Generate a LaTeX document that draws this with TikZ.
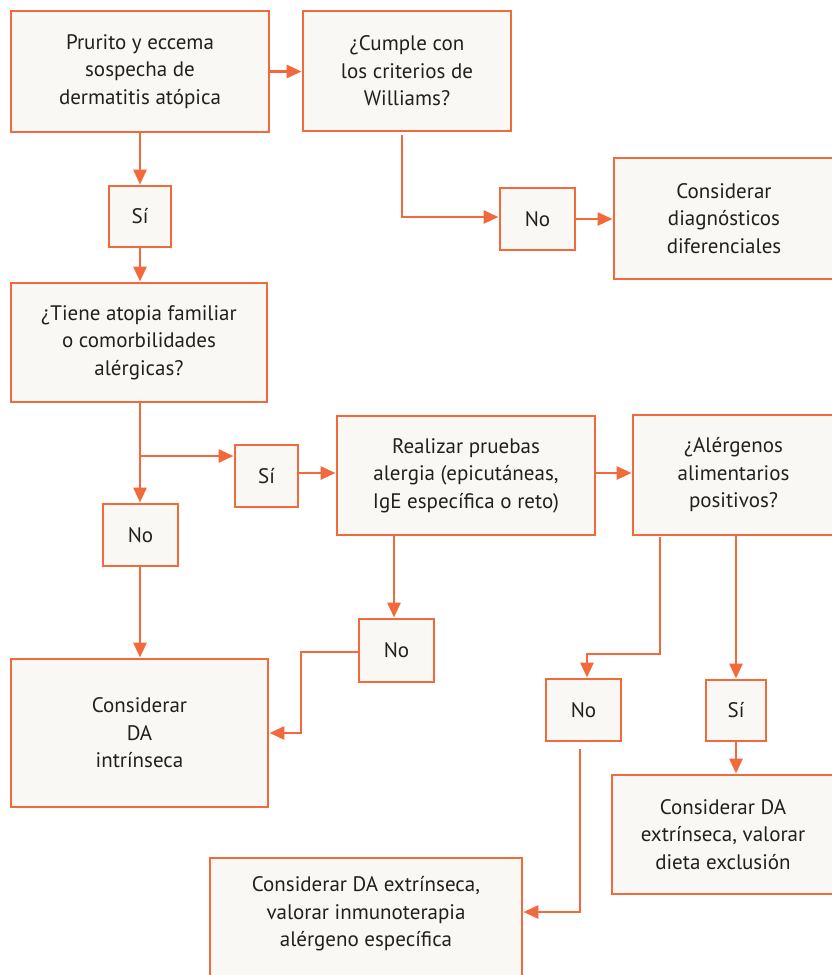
\documentclass[tikz,border=0pt]{standalone}
\usepackage{fontspec}
\setmainfont{PT Sans}
\usetikzlibrary{arrows.meta}
\definecolor{orng}{HTML}{F26A3C}
\definecolor{bg}{HTML}{FAF8F4}
\definecolor{txt}{HTML}{231F20}
\tikzset{
  bx/.style={draw=orng, fill=bg, line width=2.9pt, inner sep=0pt, align=center,
    text=txt, font=\fontsize{21}{27.5}\selectfont},
  arr/.style={draw=orng, line width=2.9pt, -{Triangle[length=15pt,width=13pt]}},
  ln/.style={draw=orng, line width=2.9pt}
}
\begin{document}
\begin{tikzpicture}[x=1pt,y=-1pt]
\useasboundingbox (0,0) rectangle (832,975);
\clip (0,0) rectangle (832,975);
\fill[white] (0,0) rectangle (832,975);
\node[bx, minimum width=258pt, minimum height=121pt] (prur) at (140,71.5) {Prurito y eccema\\sospecha de\\dermatitis atópica};
\node[bx, minimum width=208pt, minimum height=120pt] (cump) at (407,71) {¿Cumple con\\los criterios de\\Williams?};
\node[bx, minimum width=62pt, minimum height=61pt] (si1) at (140,216.5) {Sí};
\node[bx, minimum width=75pt, minimum height=62pt] (no1) at (537.5,219) {No};
\node[bx, minimum width=220pt, minimum height=121pt] (diag) at (724,218.5) {Considerar\\diagnósticos\\diferenciales};
\node[bx, minimum width=256pt, minimum height=119pt] (tien) at (139,342.5) {¿Tiene atopia familiar\\o comorbilidades\\alérgicas?};
\node[bx, minimum width=63pt, minimum height=62pt] (si2) at (266.5,476) {Sí};
\node[bx, minimum width=75pt, minimum height=62pt] (no2) at (140.5,535) {No};
\node[bx, minimum width=258pt, minimum height=119pt] (real) at (466,475.5) {Realizar pruebas\\alergia (epicutáneas,\\IgE específica o reto)};
\node[bx, minimum width=201pt, minimum height=120pt] (aler) at (733.5,475) {¿Alérgenos\\alimentarios\\positivos?};
\node[bx, minimum width=75pt, minimum height=63pt] (no3) at (396.5,650.5) {No};
\node[bx, minimum width=257pt, minimum height=148pt] (intr) at (139.5,733) {Considerar\\DA\\intrínseca};
\node[bx, minimum width=75pt, minimum height=62pt] (no4) at (583.5,710) {No};
\node[bx, minimum width=60pt, minimum height=61pt] (si3) at (736,710.5) {Sí};
\node[bx, minimum width=222pt, minimum height=119pt] (diet) at (723,834.5) {Considerar DA\\extrínseca, valorar\\dieta exclusión};
\node[bx, minimum width=312pt, minimum height=120pt] (inmu) at (366,918) {};
\node[text=txt, font=\fontsize{21}{27.5}\selectfont, align=center, inner sep=0pt] (inmut) at (366,914) {Considerar DA extrínseca,\\valorar inmunoterapia\\alérgeno específica};
% coordinates
\coordinate (k1) at (402,135);
\coordinate (k2) at (140,456);
\coordinate (k3) at (301,652);
\coordinate (k4) at (660,537);
\coordinate (k5) at (660,654);
\coordinate (k6) at (587,654);
\coordinate (k7) at (580,749);
\coordinate (k8) at (580,912);
% connectors
\draw[arr] (prur.east) -- (prur.east -| cump.west);
\draw[arr] (prur.south) -- (si1.north);
\draw[arr] (si1.south) -- (si1.south |- tien.north);
\draw[arr] (k1) |- (no1.west |- 0,217);
\draw[arr] (no1.east) -- (no1.east -| diag.west);
\draw[arr] (tien.south -| k2) -- (k2 |- no2.north);
\draw[arr] (k2) -- (k2 -| si2.west);
\draw[arr] (si2.east |- 0,473) -- (real.west |- 0,473);
\draw[arr] (real.east |- 0,473) -- (aler.west |- 0,473);
\draw[arr] (real.south -| 394,0) -- (no3.north -| 394,0);
\draw[arr] (no3.west |- k3) -| (k3 |- intr.east) -- (intr.east);
\draw[arr] (no2.south -| k2) -- (k2 |- intr.north);
\draw[arr] (k4) -- (k5) -- (k6) -- (k6 |- no4.north);
\draw[arr] (aler.south -| si3.north) -- (si3.north);
\draw[arr] (si3.south) -- (si3.south |- diet.north);
\draw[arr] (k7) -- (k8) -- (k8 -| inmu.east);
\end{tikzpicture}
\end{document}
